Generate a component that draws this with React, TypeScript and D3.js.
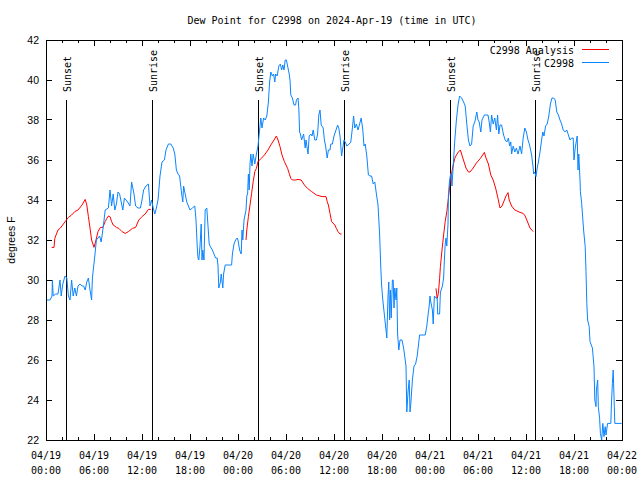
import React, { useEffect } from 'react';
import * as d3 from 'd3';

const TITLE = 'Dew Point for C2998 on 2024-Apr-19 (time in UTC)';
const Y_LABEL = 'degrees F';
const ANALYSIS_NAME = 'C2998 Analysis';
const OBS_NAME = 'C2998';
const Y_TICKS = [22, 24, 26, 28, 30, 32, 34, 36, 38, 40, 42];
const START_UTC = Date.UTC(2024, 3, 19);
const SPAN_HOURS = 72;

// Sun events, hours after 2024-04-19 00:00 UTC
const sunEvents: [string, number][] = [
  ['Sunset', 2.53], ['Sunrise', 13.27], ['Sunset', 26.55],
  ['Sunrise', 37.25], ['Sunset', 50.55], ['Sunrise', 61.2],
];

// Analysis (hours, deg F) - three segments
const analysisA: [number, number][] = [
  [0.7, 31.63], [1.0, 31.63], [1.1, 32.08], [1.3, 32.3], [1.5, 32.5], [1.8, 32.6], [2.4, 32.92],
  [2.8, 33.13], [3.2, 33.25], [3.6, 33.42], [4.0, 33.5], [4.5, 33.75], [4.9, 34.03], [5.1, 33.75],
  [5.3, 33.17], [5.5, 32.6], [5.7, 32.0], [6.0, 31.63], [6.25, 32.0], [6.5, 32.42], [6.8, 32.63],
  [7.1, 32.63], [7.4, 32.92], [7.6, 33.08], [7.8, 33.2], [8.0, 33.17], [8.2, 32.92], [8.4, 32.75],
  [8.8, 32.63], [9.1, 32.58], [9.5, 32.42], [9.9, 32.33], [10.3, 32.42], [10.8, 32.58], [11.2, 32.63],
  [11.6, 33.0], [12.0, 33.17], [12.4, 33.3], [12.8, 33.53], [13.1, 33.53],
];
const analysisB: [number, number][] = [
  [25.0, 32.0], [25.1, 32.5], [25.3, 33.17], [25.5, 33.75], [25.7, 34.33], [25.9, 34.92], [26.1, 35.42],
  [26.3, 35.58], [26.5, 35.92], [26.9, 36.08], [27.3, 36.25], [27.75, 36.5], [28.1, 36.75], [28.5, 37.0],
  [28.8, 37.2], [29.0, 37.0], [29.25, 36.67], [29.5, 36.25], [29.8, 35.92], [30.0, 35.75], [30.2, 35.58],
  [30.4, 35.33], [30.6, 35.08], [30.8, 35.0], [31.2, 35.0], [31.5, 35.03], [31.9, 35.0], [32.3, 34.75],
  [32.7, 34.58], [33.2, 34.42], [33.8, 34.25], [34.5, 34.17], [35.0, 34.17], [35.15, 33.92], [35.3, 33.75],
  [35.5, 33.33], [35.7, 32.92], [36.1, 32.75], [36.3, 32.58], [36.5, 32.42], [36.75, 32.3], [36.95, 32.3],
];
const analysisC: [number, number][] = [
  [48.75, 29.58], [48.9, 29.08], [49.05, 29.33], [49.2, 30.08], [49.3, 30.67], [49.5, 31.5], [49.7, 32.25],
  [49.9, 32.92], [50.1, 33.42], [50.3, 34.08], [50.5, 34.83], [50.7, 35.33], [50.9, 35.75], [51.1, 36.08],
  [51.3, 36.25], [51.55, 36.4], [51.8, 36.5], [52.1, 36.1], [52.5, 35.6], [52.8, 35.4], [53.0, 35.4],
  [53.4, 35.6], [53.8, 35.85], [54.3, 36.08], [54.8, 36.38], [55.0, 36.1], [55.3, 35.8], [55.6, 35.25],
  [55.9, 35.0], [56.2, 34.6], [56.5, 34.08], [56.75, 33.6], [57.0, 33.7], [57.5, 34.2], [57.75, 34.37],
  [57.9, 34.0], [58.2, 33.7], [58.6, 33.5], [59.25, 33.38], [59.65, 33.33], [59.9, 33.2], [60.1, 33.0],
  [60.3, 32.8], [60.5, 32.6], [60.9, 32.42],
];

// Observations (hours, deg F)
const observations: [number, number][] = [
  [0.0, 29.0], [0.5, 29.0], [0.75, 29.2], [0.8, 30.0], [0.9, 29.2], [1.2, 29.3], [1.5, 29.3], [1.75, 30.0],
  [1.9, 29.2], [2.1, 29.8], [2.375, 30.2], [2.6, 30.1], [2.8, 29.2], [3.0, 29.0], [3.2, 30.0], [3.4, 29.2],
  [3.6, 29.6], [3.8, 29.2], [4.0, 29.7], [4.25, 29.8], [4.5, 29.7], [4.7, 29.7], [4.9, 29.5], [5.1, 29.9],
  [5.3, 30.1], [5.5, 29.5], [5.7, 29.0], [5.8, 30.1], [6.1, 31.2], [6.3, 32.0], [6.5, 32.1], [6.7, 32.2],
  [6.9, 31.9], [7.2, 32.8], [7.4, 33.5], [7.8, 33.6], [8.0, 34.5], [8.2, 33.7], [8.4, 34.3], [8.6, 33.5],
  [8.8, 33.8], [9.0, 34.4], [9.2, 34.3], [9.4, 33.9], [9.6, 33.5], [9.8, 34.1], [10.0, 34.0], [10.2, 33.9],
  [10.5, 33.7], [10.7, 34.9], [11.0, 34.3], [11.2, 33.7], [11.5, 33.6], [11.8, 33.6], [12.0, 34.0],
  [12.2, 34.5], [12.5, 34.7], [12.8, 34.8], [13.0, 33.7], [13.2, 34.0], [13.4, 33.6], [13.6, 33.3],
  [13.8, 33.6], [14.0, 34.0], [14.25, 35.2], [14.5, 35.9], [14.8, 36.0], [15.0, 36.5], [15.3, 36.8],
  [15.6, 36.8], [15.9, 36.6], [16.1, 36.3], [16.3, 35.5], [16.5, 35.3], [16.7, 35.2], [16.96, 34.3],
  [17.1, 33.9], [17.2, 34.7], [17.4, 34.3], [17.6, 33.9], [17.8, 33.7], [18.0, 33.5], [18.3, 33.6],
  [18.6, 33.7], [18.75, 33.0], [18.9, 31.7], [19.0, 31.1], [19.1, 31.0], [19.25, 31.7], [19.4, 32.8],
  [19.5, 31.0], [19.6, 31.5], [19.75, 31.0], [19.9, 33.5], [20.1, 33.6], [20.2, 33.0], [20.4, 31.8],
  [20.5, 31.7], [20.8, 31.5], [21.0, 31.3], [21.2, 31.1], [21.4, 31.1], [21.5, 30.7], [21.6, 29.6],
  [21.8, 29.9], [21.9, 30.3], [22.1, 29.6], [22.2, 30.3], [22.4, 30.75], [23.2, 30.75], [23.3, 31.3],
  [23.5, 31.8], [23.7, 32.0], [23.9, 32.1], [24.0, 32.0], [24.2, 31.5], [24.4, 31.3], [24.5, 32.5],
  [24.6, 32.0], [24.75, 33.0], [25.0, 33.5], [25.1, 34.2], [25.2, 34.3], [25.3, 35.3], [25.4, 34.5],
  [25.5, 35.8], [25.6, 36.3], [25.75, 35.7], [25.9, 36.3], [26.1, 35.8], [26.3, 36.3], [26.5, 36.7],
  [26.75, 37.7], [26.85, 38.1], [27.0, 37.6], [27.2, 38.1], [27.4, 38.0], [27.6, 38.2], [27.8, 38.9],
  [27.95, 39.9], [28.1, 40.4], [28.3, 40.2], [28.45, 40.3], [28.6, 39.9], [28.7, 40.3], [28.9, 40.2],
  [29.1, 40.7], [29.3, 40.8], [29.45, 40.5], [29.6, 40.75], [29.75, 40.5], [29.9, 41.0], [30.05, 41.0],
  [30.2, 40.7], [30.4, 40.3], [30.5, 40.0], [30.6, 39.25], [30.8, 39.1], [31.0, 38.75], [31.2, 38.75],
  [31.3, 39.0], [31.5, 39.1], [31.6, 38.6], [31.7, 37.4], [31.8, 37.3], [31.95, 37.0], [32.2, 37.3],
  [32.4, 36.6], [32.5, 37.0], [32.75, 36.3], [32.9, 37.2], [33.1, 37.3], [33.25, 37.2], [33.4, 37.5],
  [33.6, 37.0], [33.8, 37.0], [33.95, 37.3], [34.1, 38.25], [34.25, 38.5], [34.4, 37.75], [34.65, 37.6],
  [34.8, 37.0], [34.95, 36.7], [35.15, 36.1], [35.3, 36.5], [35.5, 36.5], [35.6, 36.8], [35.8, 36.8],
  [36.0, 37.2], [36.25, 37.5], [36.45, 37.75], [36.6, 37.6], [36.75, 37.2], [36.95, 36.2], [37.1, 36.6],
  [37.25, 37.0], [37.4, 36.9], [37.6, 36.7], [37.9, 36.8], [38.1, 36.9], [38.3, 37.6], [38.45, 38.2],
  [38.6, 37.6], [38.8, 37.8], [39.0, 37.5], [39.2, 37.8], [39.4, 38.1], [39.6, 37.5], [39.75, 36.7],
  [39.9, 36.8], [40.1, 36.2], [40.3, 35.25], [40.5, 35.2], [40.7, 35.2], [40.9, 34.8], [41.1, 34.9],
  [41.3, 34.3], [41.5, 33.75], [41.7, 32.3], [41.85, 30.6], [41.95, 29.75], [42.1, 29.0], [42.5, 27.5],
  [42.6, 27.1], [42.75, 29.2], [42.85, 29.9], [42.95, 28.0], [43.05, 29.5], [43.15, 28.1], [43.3, 30.0],
  [43.4, 30.0], [43.5, 28.6], [43.6, 29.6], [43.75, 29.0], [43.85, 29.6], [43.95, 27.3], [44.1, 26.5],
  [44.25, 27.0], [44.5, 27.0], [44.7, 26.6], [45.0, 25.7], [45.1, 23.4], [45.25, 24.4], [45.4, 25.0],
  [45.5, 23.4], [45.6, 23.8], [45.8, 25.0], [46.0, 25.7], [46.2, 25.8], [46.4, 26.2], [46.7, 27.25],
  [47.4, 27.25], [47.6, 27.7], [47.8, 28.4], [47.9, 28.7], [48.0, 29.2], [48.1, 28.9], [48.3, 28.5],
  [48.4, 27.8], [48.55, 29.2], [48.75, 29.1], [48.9, 29.1], [48.96, 28.3], [49.2, 28.3], [49.3, 29.4],
  [49.4, 29.5], [49.55, 29.7], [49.7, 30.1], [49.8, 31.0], [49.9, 31.8], [50.0, 32.1], [50.1, 31.7],
  [50.25, 32.8], [50.3, 34.25], [50.45, 35.0], [50.6, 35.33], [50.75, 34.7], [50.9, 35.7], [51.1, 37.0],
  [51.3, 38.0], [51.5, 38.75], [51.7, 39.2], [51.95, 39.1], [52.2, 38.9], [52.4, 38.7], [52.6, 37.8],
  [52.8, 37.0], [53.0, 36.7], [53.2, 36.8], [53.4, 37.7], [53.6, 37.9], [53.85, 38.4], [54.0, 38.0],
  [54.15, 37.9], [54.35, 37.4], [54.5, 38.0], [54.8, 38.25], [55.25, 38.25], [55.4, 37.9], [55.55, 37.4],
  [55.7, 38.25], [55.9, 37.8], [56.1, 38.1], [56.3, 37.5], [56.45, 38.25], [56.6, 37.3], [56.75, 37.75],
  [56.95, 37.75], [57.2, 37.25], [57.4, 37.0], [57.6, 36.9], [57.8, 37.1], [57.95, 36.7], [58.1, 36.9],
  [58.2, 36.3], [58.4, 36.7], [58.6, 36.4], [58.8, 36.6], [59.0, 36.3], [59.25, 36.7], [59.45, 36.3],
  [59.65, 37.1], [59.85, 37.6], [60.05, 37.4], [60.25, 37.0], [60.45, 36.75], [60.7, 36.25], [60.9, 35.6],
  [60.95, 35.3], [61.1, 35.4], [61.25, 35.17], [61.4, 35.6], [61.55, 35.9], [61.75, 36.4], [61.95, 37.0],
  [62.1, 37.4], [62.25, 37.2], [62.45, 37.7], [62.65, 37.8], [62.85, 38.2], [63.05, 38.8], [63.25, 39.1],
  [63.45, 39.1], [63.65, 39.0], [63.85, 38.4], [64.05, 38.25], [64.25, 38.0], [64.45, 37.8], [64.65, 37.5],
  [64.9, 37.4], [65.1, 37.5], [65.3, 37.25], [65.5, 37.0], [65.7, 37.1], [65.9, 37.1], [66.0, 36.0],
  [66.15, 36.6], [66.4, 37.2], [66.5, 35.5], [66.6, 36.3], [66.75, 35.0], [66.8, 34.42], [66.96, 33.83],
  [67.2, 32.5], [67.4, 31.67], [67.5, 30.42], [67.6, 28.83], [67.7, 28.0], [67.9, 27.67], [68.0, 26.92],
  [68.3, 26.6], [68.5, 25.67], [68.6, 24.0], [68.75, 23.67], [68.8, 24.5], [68.96, 25.0], [69.04, 23.67],
  [69.2, 23.08], [69.3, 22.33], [69.46, 22.0], [69.6, 22.83], [69.75, 22.17], [69.9, 22.67], [70.0, 22.25],
  [70.2, 22.83], [70.6, 22.83], [70.7, 24.0], [70.8, 24.83], [70.9, 25.5], [71.04, 23.67], [71.1, 22.83],
  [71.96, 22.83],
];

const W = 640, H = 480;
const PL = 46, PR = 622, PT = 40, PB = 440;
const MONO = "'DejaVu Sans Mono', 'Liberation Mono', monospace";
const SANS = "'Liberation Sans', Arial, sans-serif";
const RED = '#ff0000';
const BLUE = '#0a84ff';

const toDate = (h: number) => new Date(START_UTC + h * 3600 * 1000);

export default function App() {
  useEffect(() => {
    document.body.style.margin = '0';
  }, []);

  const x = d3.scaleUtc().domain([toDate(0), toDate(SPAN_HOURS)]).range([PL, PR]);
  const y = d3.scaleLinear().domain([22, 42]).range([PB, PT]);
  const line = d3.line<[number, number]>().x(d => x(toDate(d[0]))).y(d => y(d[1]));

  const majors = d3.utcHour.every(6)!.range(toDate(0), toDate(SPAN_HOURS + 0.01));
  const minors = d3.utcHour.every(2)!.range(toDate(0), toDate(SPAN_HOURS + 0.01))
    .filter(d => d.getUTCHours() % 6 !== 0);
  const fDate = d3.utcFormat('%m/%d');
  const fTime = d3.utcFormat('%H:%M');
  const px = (v: number) => Math.floor(v) + 0.5;

  return (
    <svg width={W} height={H} style={{ display: 'block', background: '#fff' }}>
      <rect x={0} y={0} width={W} height={H} fill="#fff" />
      <text x={332} y={24} textAnchor="middle" fontFamily={MONO} fontSize={10} fill="#000">{TITLE}</text>

      {/* ticks */}
      <g stroke="#000" strokeWidth={1} shapeRendering="crispEdges">
        {majors.map((d, i) => {
          const xx = px(x(d));
          return (
            <g key={'M' + i}>
              <line x1={xx} x2={xx} y1={PB} y2={PB - 6} />
              <line x1={xx} x2={xx} y1={PT} y2={PT + 6} />
            </g>
          );
        })}
        {minors.map((d, i) => {
          const xx = px(x(d));
          return (
            <g key={'m' + i}>
              <line x1={xx} x2={xx} y1={PB} y2={PB - 3} />
              <line x1={xx} x2={xx} y1={PT} y2={PT + 3} />
            </g>
          );
        })}
        {Y_TICKS.map(t => {
          const yy = px(y(t));
          return (
            <g key={'y' + t}>
              <line x1={PL} x2={PL + 6} y1={yy} y2={yy} />
              <line x1={PR} x2={PR - 6} y1={yy} y2={yy} />
            </g>
          );
        })}
      </g>

      {/* y tick labels */}
      {Y_TICKS.map(t => (
        <text key={'yl' + t} x={39} y={y(t)} dy="0.35em" textAnchor="end" fontFamily={SANS} fontSize={10.5} fill="#000">{t}</text>
      ))}
      {/* x tick labels */}
      {majors.map((d, i) => (
        <text key={'xl' + i} x={x(d)} textAnchor="middle" fontFamily={MONO} fontSize={10} fill="#000">
          <tspan x={x(d)} y={459}>{fDate(d)}</tspan>
          <tspan x={x(d)} y={474}>{fTime(d)}</tspan>
        </text>
      ))}

      <text transform={`translate(11,240) rotate(-90)`} textAnchor="middle" dy="0.35em" fontFamily={SANS} fontSize={10.5} fill="#000">{Y_LABEL}</text>

      {/* sun events */}
      {sunEvents.map(([label, h], i) => {
        const xx = px(x(toDate(h)));
        return (
          <g key={'s' + i}>
            <line x1={xx} x2={xx} y1={y(39)} y2={PB} stroke="#000" strokeWidth={1} shapeRendering="crispEdges" />
            <text transform={`translate(${xx + 1},92) rotate(-90)`} textAnchor="start" dy="0.35em" fontFamily={MONO} fontSize={10} fill="#000">{label}</text>
          </g>
        );
      })}

      {/* data */}
      <g fill="none" strokeWidth={1}>
        {[analysisA, analysisB, analysisC].map((seg, i) => (
          <path key={'a' + i} d={line(seg) || ''} stroke={RED} />
        ))}
        <path d={line(observations) || ''} stroke={BLUE} />
      </g>

      {/* frame */}
      <rect x={PL + 0.5} y={PT + 0.5} width={PR - PL} height={PB - PT} fill="none" stroke="#000" strokeWidth={1} shapeRendering="crispEdges" />

      {/* legend */}
      <text x={574} y={50} dy="0.35em" textAnchor="end" fontFamily={MONO} fontSize={10} fill="#000">{ANALYSIS_NAME}</text>
      <line x1={582} x2={609} y1={49.5} y2={49.5} stroke={RED} strokeWidth={1} shapeRendering="crispEdges" />
      <text x={574} y={63} dy="0.35em" textAnchor="end" fontFamily={MONO} fontSize={10} fill="#000">{OBS_NAME}</text>
      <line x1={582} x2={609} y1={62.5} y2={62.5} stroke={BLUE} strokeWidth={1} shapeRendering="crispEdges" />
    </svg>
  );
}
